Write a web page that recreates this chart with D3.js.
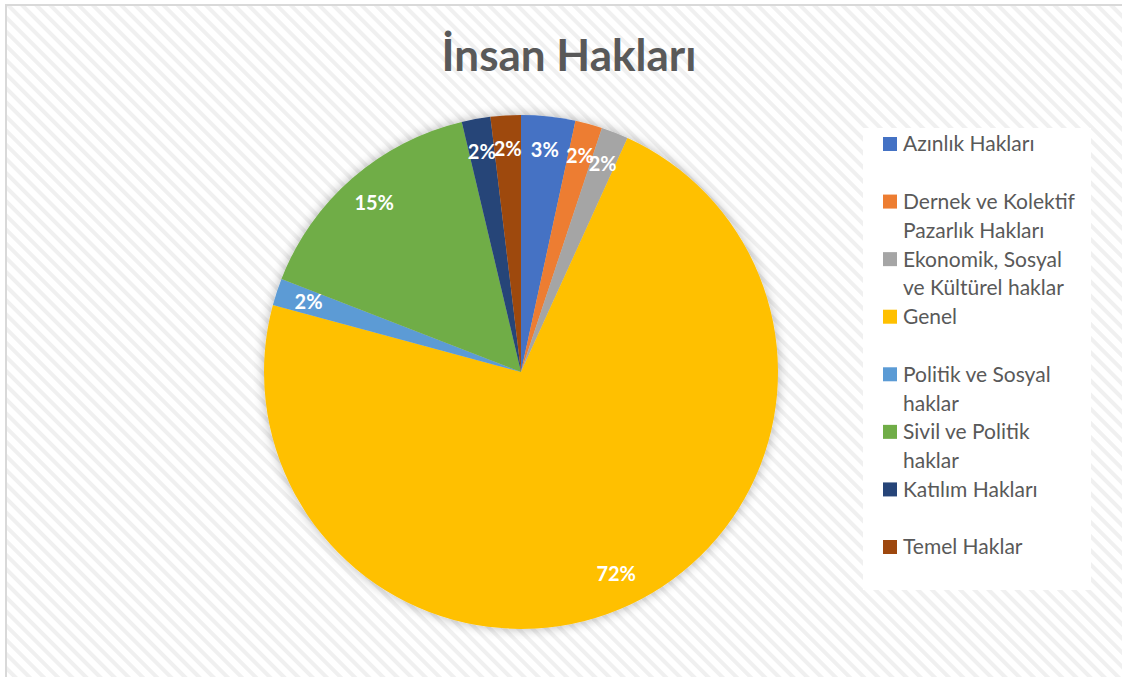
<!DOCTYPE html>
<html>
<head>
<meta charset="utf-8">
<script src="https://cdn.jsdelivr.net/npm/d3@7"></script>
<style>
  body { margin: 0; background: #fff; }
  svg { display: block; }
</style>
</head>
<body>
<svg id="chart" width="1122" height="677"></svg>
<script>
// slices, clockwise from 12 o'clock
const categories = [
  'Azınlık Hakları',
  'Dernek ve Kolektif Pazarlık Hakları',
  'Ekonomik, Sosyal ve Kültürel haklar',
  'Genel',
  'Politik ve Sosyal haklar',
  'Sivil ve Politik haklar',
  'Katılım Hakları',
  'Temel Haklar'
];
const shares = [3.4, 1.7, 1.7, 72.4, 1.7, 15.4, 1.8, 1.9];
const legendLines = [
  ['Azınlık Hakları'],
  ['Dernek ve Kolektif', 'Pazarlık Hakları'],
  ['Ekonomik, Sosyal', 've Kültürel haklar'],
  ['Genel'],
  ['Politik ve Sosyal', 'haklar'],
  ['Sivil ve Politik', 'haklar'],
  ['Katılım Hakları'],
  ['Temel Haklar']
];
const colors = ['#4472c4', '#ed7d31', '#a5a5a5', '#ffc000', '#5b9bd5', '#70ad47', '#264478', '#9e480e'];

const svg = d3.select('#chart');
const width = 1122, height = 677;
const font = 'Lato, "Open Sans", sans-serif';

const defs = svg.append('defs');
const pat = defs.append('pattern')
  .attr('id', 'stripes')
  .attr('patternUnits', 'userSpaceOnUse')
  .attr('width', 10).attr('height', 10)
  .attr('patternTransform', 'rotate(-45)');
pat.append('rect').attr('width', 10).attr('height', 10).attr('fill', '#ffffff');
pat.append('rect').attr('width', 4).attr('height', 10).attr('fill', '#f0f0f0');

const shadow = defs.append('filter').attr('id', 'shadow')
  .attr('x', '-10%').attr('y', '-10%').attr('width', '120%').attr('height', '120%');
shadow.append('feGaussianBlur').attr('in', 'SourceAlpha').attr('stdDeviation', 6);
shadow.append('feComponentTransfer').append('feFuncA').attr('type', 'linear').attr('slope', 0.3);
const merge = shadow.append('feMerge');
merge.append('feMergeNode');
merge.append('feMergeNode').attr('in', 'SourceGraphic');

// chart area background + border
svg.append('rect')
  .attr('x', 6).attr('y', 5)
  .attr('width', width).attr('height', height)
  .attr('fill', 'url(#stripes)')
  .attr('stroke', '#d9d9d9').attr('stroke-width', 2);

svg.append('text')
  .attr('x', 569).attr('y', 71)
  .attr('text-anchor', 'middle')
  .attr('font-family', font)
  .attr('font-weight', 'bold')
  .attr('font-size', 44)
  .attr('fill', '#595959')
  .text('İnsan Hakları');

// pie
const cx = 521, cy = 372, radius = 257;
const pie = d3.pie().sort(null).value(d => d);
const arcs = pie(shares);
const arc = d3.arc().innerRadius(0).outerRadius(radius);
const labelArc = d3.arc().innerRadius(radius * 0.87).outerRadius(radius * 0.87);

const g = svg.append('g').attr('transform', `translate(${cx},${cy})`);
g.append('g').attr('filter', 'url(#shadow)')
  .selectAll('path')
  .data(arcs)
  .join('path')
  .attr('d', arc)
  .attr('fill', (d, i) => colors[i]);

const total = d3.sum(shares);
g.selectAll('text.lbl')
  .data(arcs)
  .join('text')
  .attr('class', 'lbl')
  .attr('transform', d => `translate(${labelArc.centroid(d)})`)
  .attr('text-anchor', 'middle')
  .attr('dy', '0.35em')
  .attr('font-family', font)
  .attr('font-weight', 'bold')
  .attr('font-size', 20)
  .attr('fill', '#ffffff')
  .text(d => Math.round(d.data / total * 100) + '%');

// legend
const legend = svg.append('g');
legend.append('rect')
  .attr('x', 863).attr('y', 128)
  .attr('width', 228).attr('height', 462)
  .attr('fill', '#ffffff');

const slot = d3.scaleLinear().domain([0, 7]).range([144, 547]);
const items = legend.selectAll('g.item')
  .data(categories)
  .join('g')
  .attr('class', 'item')
  .attr('transform', (d, i) => `translate(883,${slot(i)})`);

items.append('rect')
  .attr('y', -7).attr('width', 14).attr('height', 14)
  .attr('fill', (d, i) => colors[i]);

items.append('text')
  .attr('font-family', font)
  .attr('font-size', 21)
  .attr('fill', '#595959')
  .selectAll('tspan')
  .data((d, i) => legendLines[i])
  .join('tspan')
  .attr('x', 20)
  .attr('y', (d, j) => j * 29)
  .attr('dy', '0.35em')
  .text(d => d);
</script>
</body>
</html>
